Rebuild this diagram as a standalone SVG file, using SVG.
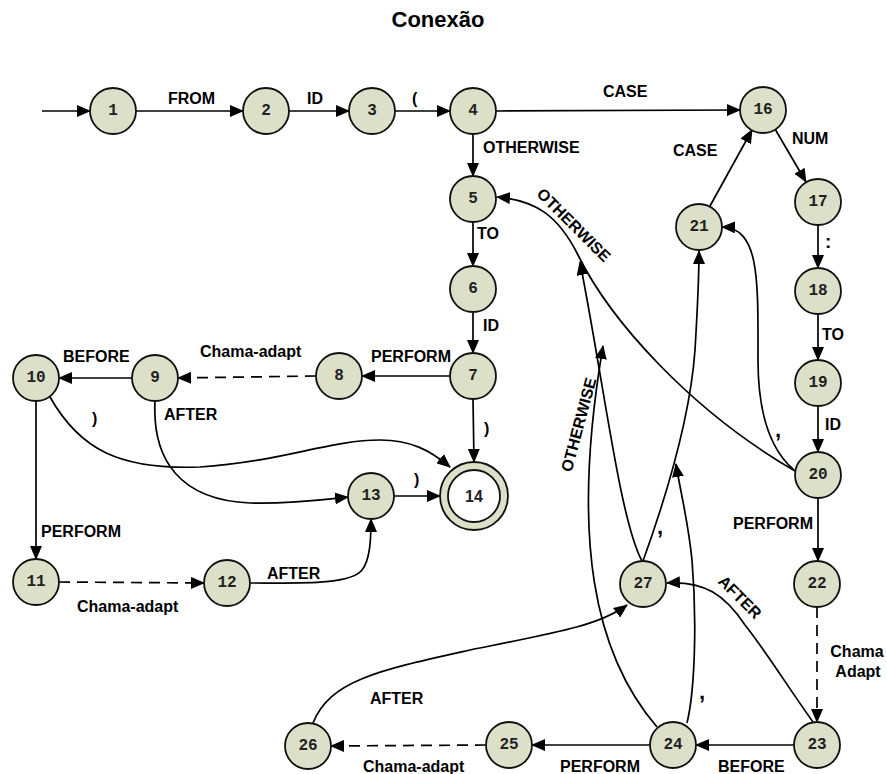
<svg xmlns="http://www.w3.org/2000/svg" width="887" height="774" viewBox="0 0 887 774">
<style>
.n circle{fill:#dde0c9;stroke:#111;stroke-width:1.8}
.n text{font-family:"Liberation Mono","DejaVu Sans Mono",monospace;font-weight:bold;font-size:16px;text-anchor:middle;dominant-baseline:central;fill:#222}
.e path{fill:none;stroke:#000;stroke-width:1.7;marker-end:url(#ah)}
.e .d{stroke-dasharray:11,7}
.l{font-family:"Liberation Sans",Arial,sans-serif;font-weight:bold;font-size:16px;fill:#000}
.p{font-size:22px}
.t{font-family:"Liberation Sans",Arial,sans-serif;font-weight:bold;font-size:22px;fill:#000;text-anchor:middle}
</style>
<defs>
<marker id="ah" markerUnits="userSpaceOnUse" markerWidth="14" markerHeight="12" refX="13" refY="6" orient="auto">
<path d="M0,0 L14,6 L0,12 z" fill="#000"/>
</marker>
</defs>
<rect width="887" height="774" fill="#fff"/>
<text class="t" x="438" y="27">Conexão</text>

<g id="connectors" class="e">
<path d="M42,111 L90,111"/>
<path d="M136,111 L243,111"/>
<path d="M289,111 L349,111"/>
<path d="M395,111 L450,111"/>
<path d="M496,111 L740,110"/>
<path d="M473,134 L473,176"/>
<path d="M473,222 L473,266"/>
<path d="M473,312 L473,353"/>
<path d="M450,376 L362,376"/>
<path class="d" d="M316,376 L178,378"/>
<path d="M132,378 L59,378"/>
<path d="M473,399 L474,462"/>
<path d="M394,496 L440,496"/>
<path d="M36,401 L36,559"/>
<path class="d" d="M59,582 L204,583"/>
<path d="M155,401 C152,460 180,500 250,503 C290,504 320,500 348,497"/>
<path d="M50,397 C80,450 120,470 200,467 C280,462 330,440 380,440 C410,440 430,450 450,467"/>
<path d="M250,583 C300,583 350,585 362,570 C370,560 371,540 371,519"/>
<path d="M775,129 L806,182"/>
<path d="M710,206 L752,130"/>
<path d="M818,225 L818,268"/>
<path d="M818,314 L818,360"/>
<path d="M818,406 L818,452"/>
<path d="M818,498 L818,561"/>
<path class="d" d="M817,607 L817,722"/>
<path d="M794,745 L696,745"/>
<path d="M650,745 L532,745"/>
<path class="d" d="M486,745 L331,746"/>
<path d="M795,471 C690,410 610,320 578,255 C558,215 535,200 497,197"/>
<path d="M794,470 C768,448 758,410 758,360 C758,280 760,228 722,227"/>
<path d="M643,561 C665,500 690,420 695,350 C698,300 699,270 699,251"/>
<path d="M642,561 C620,520 605,390 580,262"/>
<path d="M657,727 C595,655 570,540 603,346"/>
<path d="M687,723 C695,690 697,620 692,560 C688,520 680,490 676,464"/>
<path d="M813,722 C790,690 765,650 745,625 C725,595 705,581 667,583"/>
<path d="M313,723 C330,680 380,670 470,650 C560,632 600,625 627,605"/>
</g>

<g id="labels">
<text class="l" x="168" y="104">FROM</text>
<text class="l" x="307" y="104">ID</text>
<text class="l" x="412" y="104">(</text>
<text class="l" x="603" y="97">CASE</text>
<text class="l" x="483" y="153">OTHERWISE</text>
<text class="l" x="673" y="156">CASE</text>
<text class="l" x="792" y="144">NUM</text>
<text class="l" x="477" y="239">TO</text>
<text class="l" x="483" y="331">ID</text>
<text class="l" text-anchor="middle" transform="translate(570,229) rotate(45)">OTHERWISE</text>
<text class="l" x="825" y="248" style="font-size:19px">:</text>
<text class="l" x="822" y="340">TO</text>
<text class="l" x="825" y="430">ID</text>
<text class="l p" x="775" y="437">,</text>
<text class="l" x="733" y="529">PERFORM</text>
<text class="l p" x="657" y="534">,</text>
<text class="l" text-anchor="middle" transform="translate(584,426) rotate(-75)">OTHERWISE</text>
<text class="l p" x="699" y="699">,</text>
<text class="l" text-anchor="middle" transform="translate(736,601) rotate(45)">AFTER</text>
<text class="l" x="857" y="657" text-anchor="middle">Chama</text>
<text class="l" x="858" y="677" text-anchor="middle">Adapt</text>
<text class="l" x="718" y="772">BEFORE</text>
<text class="l" x="560" y="772">PERFORM</text>
<text class="l" x="363" y="772">Chama-adapt</text>
<text class="l" x="370" y="704">AFTER</text>
<text class="l" x="63" y="362">BEFORE</text>
<text class="l" x="200" y="357">Chama-adapt</text>
<text class="l" x="371" y="362">PERFORM</text>
<text class="l" x="92" y="424">)</text>
<text class="l" x="164" y="420">AFTER</text>
<text class="l" x="484" y="434">)</text>
<text class="l" x="414" y="485">)</text>
<text class="l" x="41" y="537">PERFORM</text>
<text class="l" x="267" y="579">AFTER</text>
<text class="l" x="77" y="612">Chama-adapt</text>
</g>

<g id="n1" class="n"><circle cx="113" cy="111" r="23"/><text x="113" y="111">1</text></g>
<g id="n2" class="n"><circle cx="266" cy="111" r="23"/><text x="266" y="111">2</text></g>
<g id="n3" class="n"><circle cx="372" cy="111" r="23"/><text x="372" y="111">3</text></g>
<g id="n4" class="n"><circle cx="473" cy="111" r="23"/><text x="473" y="111">4</text></g>
<g id="n5" class="n"><circle cx="473" cy="199" r="23"/><text x="473" y="199">5</text></g>
<g id="n6" class="n"><circle cx="473" cy="289" r="23"/><text x="473" y="289">6</text></g>
<g id="n7" class="n"><circle cx="473" cy="376" r="23"/><text x="473" y="376">7</text></g>
<g id="n8" class="n"><circle cx="339" cy="376" r="23"/><text x="339" y="376">8</text></g>
<g id="n9" class="n"><circle cx="155" cy="378" r="23"/><text x="155" y="378">9</text></g>
<g id="n10" class="n"><circle cx="36" cy="378" r="23"/><text x="36" y="378">10</text></g>
<g id="n11" class="n"><circle cx="36" cy="582" r="23"/><text x="36" y="582">11</text></g>
<g id="n12" class="n"><circle cx="227" cy="583" r="23"/><text x="227" y="583">12</text></g>
<g id="n13" class="n"><circle cx="371" cy="496" r="23"/><text x="371" y="496">13</text></g>
<g id="n14" class="n"><circle cx="474" cy="496" r="34"/><circle cx="474" cy="496" r="26" style="fill:#fff"/><text x="474" y="496" style="font-family:'Liberation Sans',Arial,sans-serif">14</text></g>
<g id="n16" class="n"><circle cx="763" cy="110" r="23"/><text x="763" y="110">16</text></g>
<g id="n17" class="n"><circle cx="818" cy="202" r="23"/><text x="818" y="202">17</text></g>
<g id="n18" class="n"><circle cx="818" cy="291" r="23"/><text x="818" y="291">18</text></g>
<g id="n19" class="n"><circle cx="818" cy="383" r="23"/><text x="818" y="383">19</text></g>
<g id="n20" class="n"><circle cx="818" cy="475" r="23"/><text x="818" y="475">20</text></g>
<g id="n21" class="n"><circle cx="699" cy="227" r="23"/><text x="699" y="227">21</text></g>
<g id="n22" class="n"><circle cx="817" cy="584" r="23"/><text x="817" y="584">22</text></g>
<g id="n23" class="n"><circle cx="817" cy="745" r="23"/><text x="817" y="745">23</text></g>
<g id="n24" class="n"><circle cx="673" cy="745" r="23"/><text x="673" y="745">24</text></g>
<g id="n25" class="n"><circle cx="509" cy="745" r="23"/><text x="509" y="745">25</text></g>
<g id="n26" class="n"><circle cx="308" cy="746" r="23"/><text x="308" y="746">26</text></g>
<g id="n27" class="n"><circle cx="643" cy="584" r="23"/><text x="643" y="584">27</text></g>
</svg>
